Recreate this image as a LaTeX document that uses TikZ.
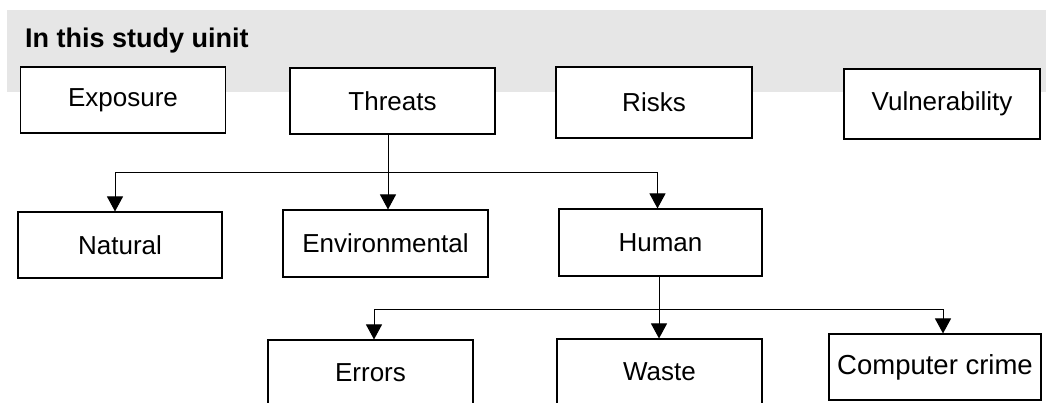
\documentclass[tikz,border=0pt]{standalone}
\usepackage{fontspec}
\setmainfont{Liberation Sans}
\usetikzlibrary{arrows.meta,positioning,calc}
\definecolor{bandgrey}{HTML}{E6E6E6}

\begin{document}
\begin{tikzpicture}[x=1pt,y=-1pt,
  box/.style={draw,line width=1.1pt,fill=white,align=center,font=\fontsize{26}{30}\selectfont,inner sep=0pt,minimum width=205pt,minimum height=66pt},
  arr/.style={-{Triangle[length=15pt,width=16pt]},line width=1pt}]
\useasboundingbox (0,0) rectangle (1046,403);
\clip (0,0) rectangle (1046,403);
\fill[bandgrey] (7,10) rectangle (1046,92);
\node[anchor=base west,inner sep=0pt,font=\bfseries\fontsize{27}{30}\selectfont] (title) at (25,48) {In this study uinit};
\node[box] (exposure) at (123,100) {Exposure};
\node[box] (threats) at (392.5,101) {Threats};
\node[box,minimum width=196pt,minimum height=71pt] (risks) at (654,102.5) {Risks};
\node[box,minimum width=196pt,minimum height=70pt] (vuln) at (942,104) {Vulnerability};
\node[box,minimum width=204pt] (natural) at (120,245) {Natural};
\node[box,minimum height=67pt] (envir) at (385.5,243.5) {Environmental};
\node[box,minimum width=203pt,minimum height=67pt] (human) at (660.5,242.5) {Human};
\node[box] (errors) at (370.5,373) {Errors};
\node[box] (waste) at (659.5,372) {Waste};
\node[box,minimum width=212pt,font=\fontsize{27.5}{30}\selectfont] (crime) at (935,367) {Computer crime};
\coordinate (tbus) at (388,173);
\coordinate (hbus) at (659,309);
\draw[line width=1pt] (threats.south -| tbus) -- (tbus);
\draw[arr] (tbus) -- (tbus |- envir.north);
\draw[arr] (tbus) -| ($(natural.north)+(-5,0)$);
\draw[arr] (tbus) -| ($(human.north)+(-3,0)$);
\draw[line width=1pt] (human.south -| hbus) -- (hbus);
\draw[arr] (hbus) -- (hbus |- waste.north);
\draw[arr] (hbus) -| ($(errors.north)+(3.5,0)$);
\draw[arr] (hbus) -| ($(crime.north)+(8,0)$);
\end{tikzpicture}
\end{document}
